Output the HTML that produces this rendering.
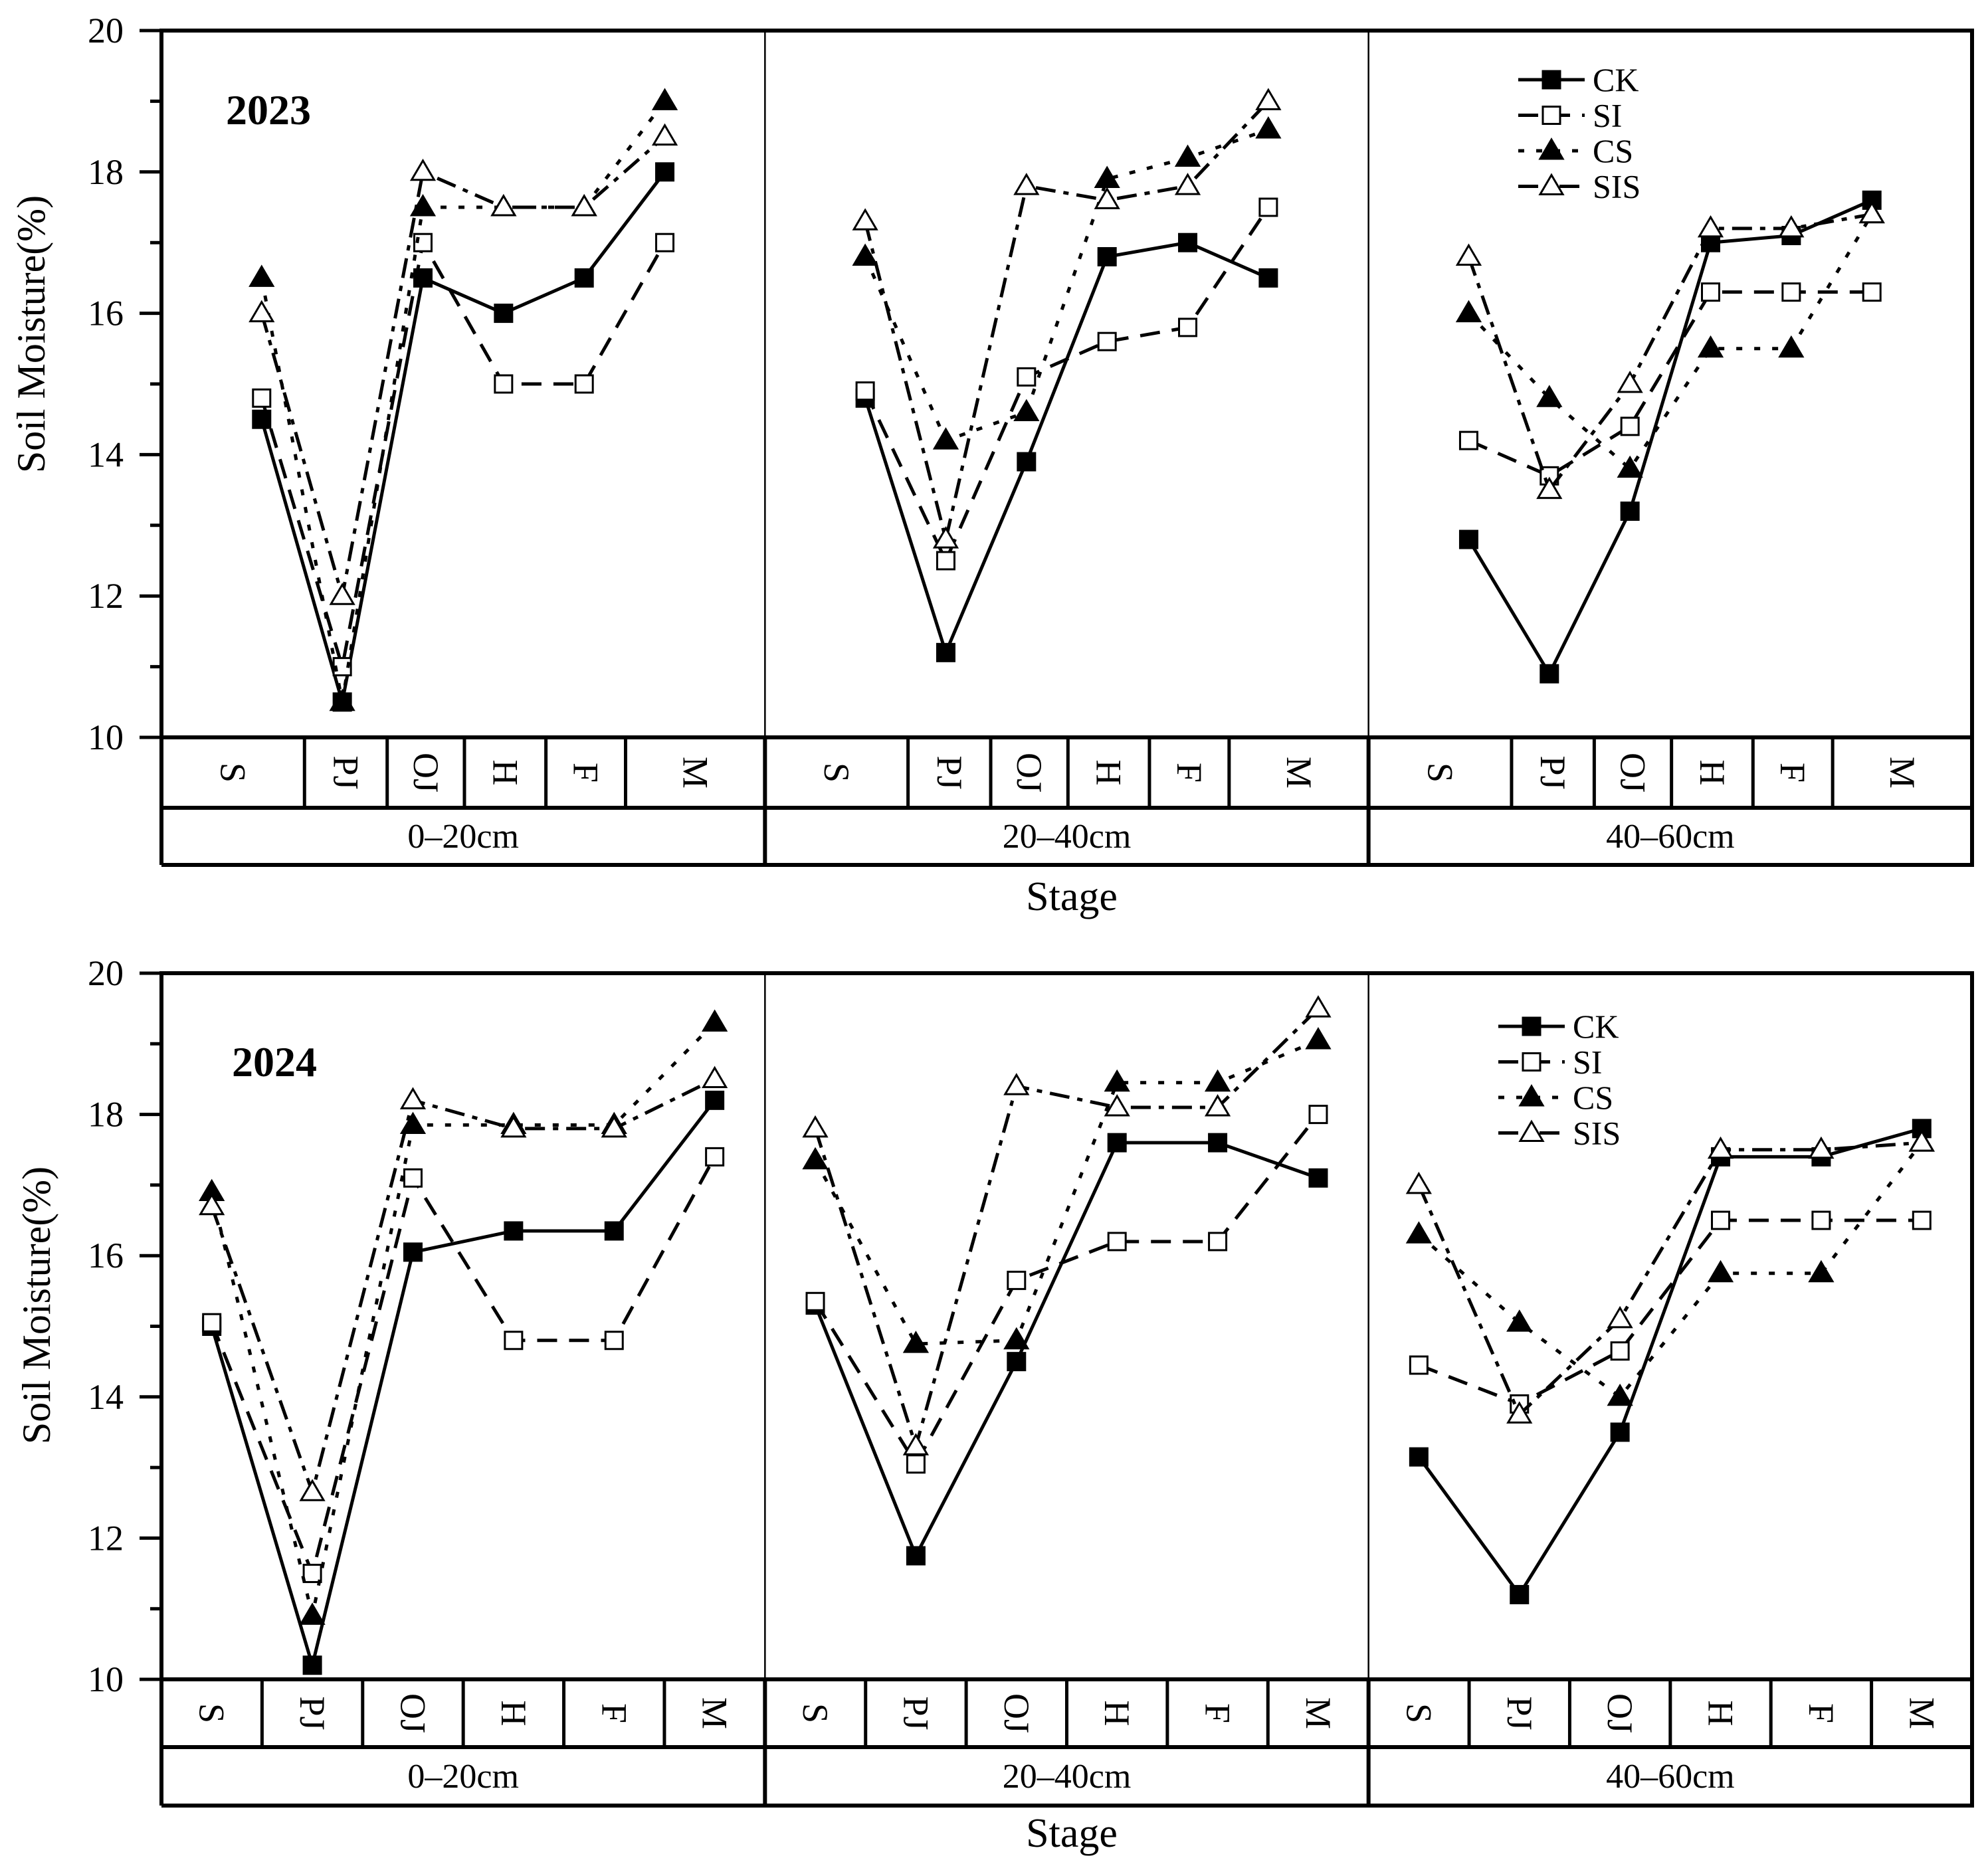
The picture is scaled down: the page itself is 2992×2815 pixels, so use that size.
<!DOCTYPE html>
<html><head><meta charset="utf-8">
<style>
html,body{margin:0;padding:0;background:#fff;}
svg{display:block;font-family:"Liberation Serif","DejaVu Serif",serif;}
</style></head>
<body>
<svg id="chart" width="2992" height="2815" viewBox="0 0 2992 2815" xmlns="http://www.w3.org/2000/svg"></svg>
<script>
const stages = ["S","PJ","OJ","H","F","M"];
const depths = ["0\u201320cm","20\u201340cm","40\u201360cm"];
const seriesNames = ["CK","SI","CS","SIS"];
const yTicks = [10,12,14,16,18,20];
// 2023 values: [depth][stage]
const ck2023 = [[14.5,10.5,16.5,16,16.5,18],[14.8,11.2,13.9,16.8,17,16.5],[12.8,10.9,13.2,17,17.1,17.6]];
const si2023 = [[14.8,11,17,15,15,17],[14.9,12.5,15.1,15.6,15.8,17.5],[14.2,13.7,14.4,16.3,16.3,16.3]];
const cs2023 = [[16.5,10.5,17.5,17.5,17.5,19],[16.8,14.2,14.6,17.9,18.2,18.6],[16,14.8,13.8,15.5,15.5,17.4]];
const sis2023 = [[16,12,18,17.5,17.5,18.5],[17.3,12.8,17.8,17.6,17.8,19],[16.8,13.5,15,17.2,17.2,17.4]];
// 2024 values
const ck2024 = [[15.0,10.2,16.05,16.35,16.35,18.2],[15.3,11.75,14.5,17.6,17.6,17.1],[13.15,11.2,13.5,17.4,17.4,17.8]];
const si2024 = [[15.05,11.5,17.1,14.8,14.8,17.4],[15.35,13.05,15.65,16.2,16.2,18],[14.45,13.9,14.65,16.5,16.5,16.5]];
const cs2024 = [[16.9,10.9,17.85,17.85,17.85,19.3],[17.35,14.75,14.8,18.45,18.45,19.05],[16.3,15.05,14.0,15.75,15.75,17.6]];
const sis2024 = [[16.7,12.65,18.2,17.8,17.8,18.5],[17.8,13.3,18.4,18.1,18.1,19.5],[17,13.75,15.1,17.5,17.5,17.6]];

const NS="http://www.w3.org/2000/svg";
const svg=document.getElementById('chart');
function mk(tag,attrs,parent){const e=document.createElementNS(NS,tag);for(const k in attrs)e.setAttribute(k,attrs[k]);(parent||svg).appendChild(e);return e;}

const X0=243, X1=2968, PW=(X1-X0)/3;
const styles={CK:{dash:"none",marker:"sq",fill:"#000"},SI:{dash:"30 18",marker:"sq",fill:"#fff"},CS:{dash:"9 18",marker:"tri",fill:"#000"},SIS:{dash:"30 12 8 12",marker:"tri",fill:"#fff"}};

function marker(g,type,fill,x,y){
  let m;
  if(type==="sq"){m=mk('rect',{x:x-13,y:y-13,width:26,height:26,fill:fill,stroke:"#000","stroke-width":3},g);}
  else{m=mk('polygon',{points:`${x},${y-17} ${x+17},${y+12} ${x-17},${y+12}`,fill:fill,stroke:"#000","stroke-width":3},g);}
  return m;
}

function drawPanel(cfg){
  const {top,y10,catB,grpB,year,yearY,data,legendY,titleY,titleX,stageY,unequal}=cfg;
  const yS=v=>y10-(v-10)*(y10-top)/10;
  const g=mk('g',{});
  
  
  // cell boundaries and point positions
  function cellBounds(p){
    const x=X0+p*PW;
    if(unequal){const f=[0,.237,.374,.502,.637,.769,1];return f.map(v=>x+v*PW);}
    return [0,1,2,3,4,5,6].map(i=>x+i*PW/6);
  }
  function px(p,i){const x=X0+p*PW; if(unequal) return x+PW*(.166+i*.1336); return x+(i+.5)*PW/6;}
  // y ticks
  for(let v=10;v<=20;v++){
    const t=mk('line',{x1:v%2===0?210:226,x2:X0,y1:yS(v),y2:yS(v),stroke:"#000","stroke-width":5},g);
    
    
  }
  yTicks.forEach(v=>{
    const t=mk('text',{x:186,y:yS(v)+18,"text-anchor":"end","font-size":54},g);t.textContent=v;
    
    
  });
  // frame
  const fr=mk('path',{d:`M${X0},${grpB} V${top} H${X1} V${grpB} H${X0} M${X0},${y10} H${X1} M${X0},${catB} H${X1}`,fill:"none",stroke:"#000","stroke-width":6},g);
  
  
  for(let p=1;p<3;p++){
    const x=X0+p*PW;
    const d1=mk('line',{x1:x,x2:x,y1:top,y2:y10,stroke:"#000","stroke-width":2.5},g);
    
    
    const d2=mk('line',{x1:x,x2:x,y1:y10,y2:grpB,stroke:"#000","stroke-width":6},g);
    
    
  }
  for(let p=0;p<3;p++){
    const b=cellBounds(p);
    for(let i=1;i<6;i++){
      const l=mk('line',{x1:b[i],x2:b[i],y1:y10,y2:catB,stroke:"#000","stroke-width":5},g);
      
      
    }
    for(let i=0;i<6;i++){
      const cx=(b[i]+b[i+1])/2, cy=(y10+catB)/2;
      const t=mk('text',{x:cx,y:cy+18,"text-anchor":"middle","font-size":54,transform:`rotate(90 ${cx} ${cy})`},g);
      t.textContent=stages[i];
      
      
    }
    const gt=mk('text',{x:X0+(p+.5)*PW,y:(catB+grpB)/2+17,"text-anchor":"middle","font-size":52},g);
    gt.textContent=depths[p];
    
    
  }
  // series
  seriesNames.forEach((s,si)=>{
    const st=styles[s];
    const sg=mk('g',{},g);
    
    
    for(let p=0;p<3;p++){
      const vals=data[si][p];
      const pts=vals.map((v,i)=>px(p,i)+','+yS(v)).join(' ');
      const pl=mk('polyline',{points:pts,fill:"none",stroke:"#000","stroke-width":5,"stroke-dasharray":st.dash},sg);
      
      
      vals.forEach((v,i)=>{
        const m=marker(sg,st.marker,st.fill,px(p,i),yS(v));
        
        
      });
    }
  });
  // year label
  const yl=mk('text',{x:cfg.yearX,y:yearY,"font-size":64,"font-weight":"bold"},g);
  yl.textContent=year;
  
  
  // legend
  const lg=mk('g',{},g);
  
  
  seriesNames.forEach((s,i)=>{
    const st=styles[s];const y=legendY+i*53.5;
    const e=mk('g',{},lg);
    
    
    mk('line',{x1:cfg.legX,x2:cfg.legX+100,y1:y,y2:y,stroke:"#000","stroke-width":5,"stroke-dasharray":st.dash},e);
    marker(e,st.marker,st.fill,cfg.legX+50,y);
    const t=mk('text',{x:cfg.legX+112,y:y+17,"font-size":50},e);t.textContent=s;
  });
  // axis titles
  const at=mk('text',{x:titleX,y:titleY,"text-anchor":"middle","font-size":60,transform:`rotate(-90 ${titleX} ${titleY})`},g);
  at.textContent="Soil Moisture(%)";
  
  
  const sx=mk('text',{x:1613,y:stageY,"text-anchor":"middle","font-size":62},g);
  sx.textContent="Stage";
  
  
}

drawPanel({top:46,y10:1110,catB:1216,grpB:1302,year:"2023",yearX:340,yearY:187,data:[ck2023,si2023,cs2023,sis2023],legX:2285,legendY:120,titleX:67,titleY:503,stageY:1370,unequal:true});
drawPanel({top:1465,y10:2528,catB:2630,grpB:2718,year:"2024",yearX:349,yearY:1620,data:[ck2024,si2024,cs2024,sis2024],legX:2255,legendY:1545,titleX:75,titleY:1965,stageY:2780,unequal:false});
</script>
</body></html>
